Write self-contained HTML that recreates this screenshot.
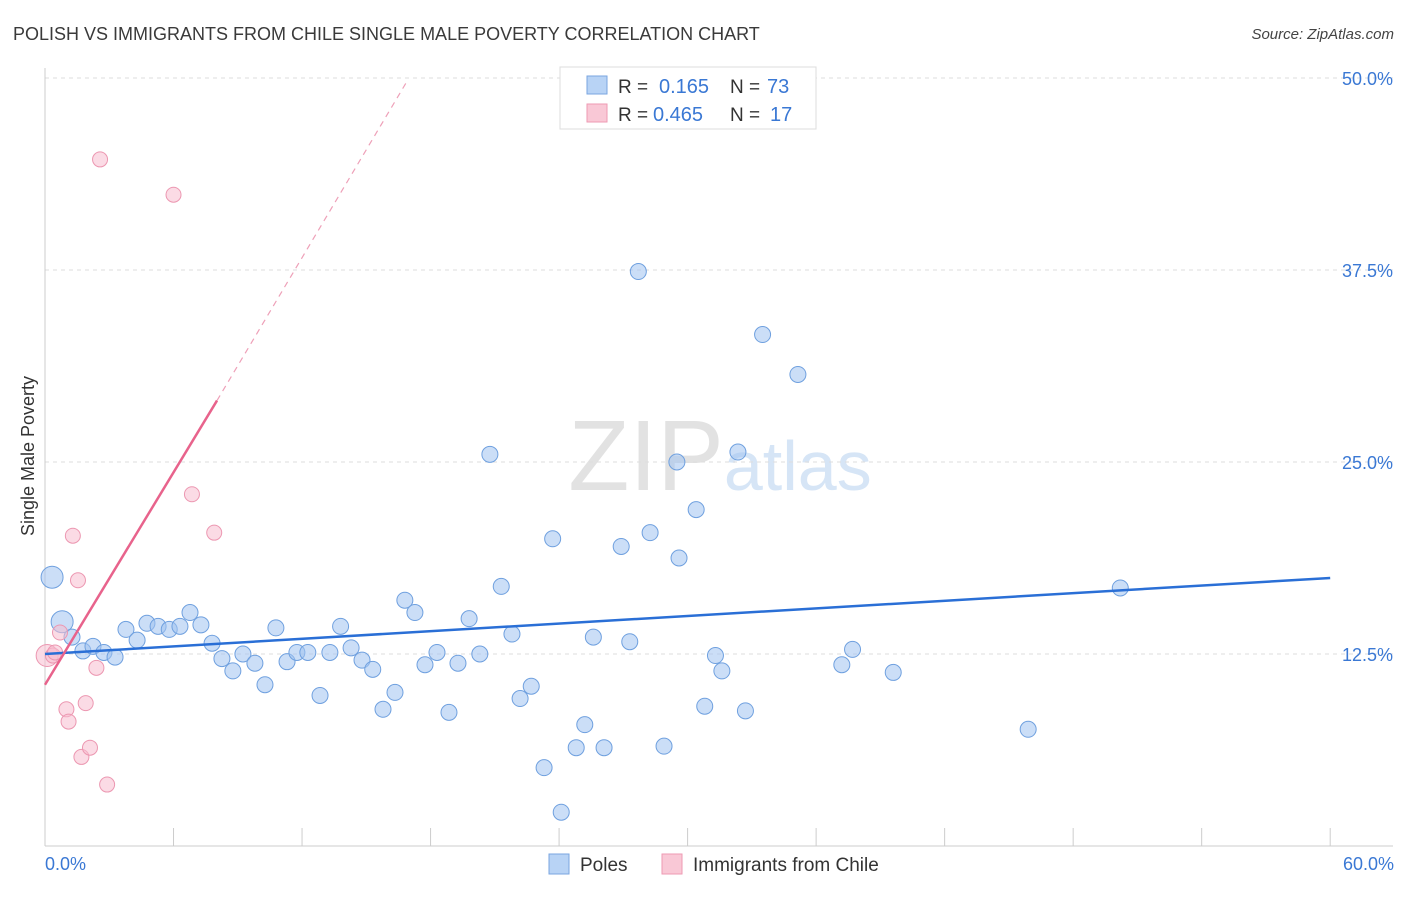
<!DOCTYPE html>
<html><head><meta charset="utf-8"><style>
body{margin:0;background:#fff;font-family:"Liberation Sans",sans-serif;}
svg text{font-family:"Liberation Sans",sans-serif;}
</style></head><body>
<svg id="chart" width="1406" height="892" xmlns="http://www.w3.org/2000/svg">
<text x="13" y="40" font-size="18" fill="#3a3a3a">POLISH VS IMMIGRANTS FROM CHILE SINGLE MALE POVERTY CORRELATION CHART</text>
<text x="1394" y="39" font-size="15" fill="#444" text-anchor="end" font-style="italic">Source: ZipAtlas.com</text>
<text x="720" y="490" font-size="100" fill="#e2e2e2" text-anchor="middle" font-family="Liberation Serif">ZIP<tspan fill="#d6e5f6" font-family="Liberation Sans" font-size="70">atlas</tspan></text>
<g id="grid"></g>
<g id="axes"></g>
<g id="marks"></g>
<text transform="translate(34,456) rotate(-90)" font-size="18" fill="#333" text-anchor="middle">Single Male Poverty</text>
<g>
<rect x="560" y="67" width="256" height="62" fill="#fff" stroke="#ddd"/>
<rect x="587" y="76" width="20" height="18" fill="#b8d3f5" stroke="#7aa6e0"/>
<text x="618" y="93" font-size="19" fill="#333">R =</text>
<text x="659" y="93" font-size="20" fill="#3a78d4">0.165</text>
<text x="730" y="93" font-size="19" fill="#333">N =</text>
<text x="767" y="93" font-size="20" fill="#3a78d4">73</text>
<rect x="587" y="104" width="20" height="18" fill="#f9c8d6" stroke="#ee9ab3"/>
<text x="618" y="121" font-size="19" fill="#333">R =</text>
<text x="653" y="121" font-size="20" fill="#3a78d4">0.465</text>
<text x="730" y="121" font-size="19" fill="#333">N =</text>
<text x="770" y="121" font-size="20" fill="#3a78d4">17</text>
</g>
<g>
<rect x="549" y="854" width="20" height="20" fill="#b8d3f5" stroke="#7aa6e0"/>
<text x="580" y="871" font-size="19" fill="#333">Poles</text>
<rect x="662" y="854" width="20" height="20" fill="#f9c8d6" stroke="#ee9ab3"/>
<text x="693" y="871" font-size="19" fill="#333">Immigrants from Chile</text>
</g>
</svg>
<script>
const yTicks=[12.5,25,37.5,50];
const yTickLabels=["12.5%","25.0%","37.5%","50.0%"];
const xTickLabels=["0.0%","60.0%"];
const polesX=[0.33,0.8,1.26,1.77,2.24,2.75,3.27,3.78,4.3,4.76,5.28,5.8,6.3,6.77,7.28,7.8,8.26,8.77,9.24,9.8,10.27,10.78,11.3,11.76,12.27,12.84,13.3,13.8,14.29,14.8,15.3,15.78,16.34,16.8,17.27,17.74,18.3,18.86,19.28,19.8,20.3,20.77,21.3,21.8,22.18,22.7,23.3,23.7,24.1,24.8,25.2,25.6,26.1,26.9,27.3,27.7,28.25,28.9,29.5,29.6,30.4,30.8,31.3,31.6,32.35,32.7,33.5,35.15,37.2,37.7,39.6,45.9,50.2];
const polesY=[17.5,14.6,13.6,12.7,13.0,12.6,12.3,14.1,13.4,14.5,14.3,14.1,14.3,15.2,14.4,13.2,12.2,11.4,12.5,11.9,10.5,14.2,12.0,12.6,12.6,9.8,12.6,14.3,12.9,12.1,11.5,8.9,10.0,16.0,15.2,11.8,12.6,8.7,11.9,14.8,12.5,25.5,16.9,13.8,9.6,10.4,5.1,20.0,2.2,6.4,7.9,13.6,6.4,19.5,13.3,37.4,20.4,6.5,25.0,18.75,21.9,9.1,12.4,11.4,25.65,8.8,33.3,30.7,11.8,12.8,11.3,7.6,16.8];
const chileX=[0.1,0.37,0.7,1.3,1.54,1.0,1.1,1.9,1.7,2.1,2.4,2.57,2.9,6.0,6.86,7.9,0.47];
const chileY=[12.4,12.4,13.9,20.2,17.3,8.9,8.1,9.3,5.8,6.4,11.6,44.7,4.0,42.4,22.9,20.4,12.6];
const polesTrend=[12.5,17.45];
const chileTrend=[10.5,29.0,49.9];
const chileTrendX=[0,8.03,16.95];
const NS="http://www.w3.org/2000/svg";
const X=v=>45+v*21.42, Y=v=>846-v*15.36;
function mk(p,t,a){const e=document.createElementNS(NS,t);for(const k in a)e.setAttribute(k,a[k]);p.appendChild(e);return e;}
const grid=document.getElementById('grid'),axes=document.getElementById('axes'),marks=document.getElementById('marks');
yTicks.forEach((t,i)=>{
 const l=mk(grid,'line',{x1:45,x2:1393,y1:Y(t),y2:Y(t),stroke:'#ddd','stroke-dasharray':'4,4'});
 
 
 const tx=mk(axes,'text',{x:1393,y:Y(t)+7,'font-size':18,fill:'#3a78d4','text-anchor':'end'});
 tx.textContent=yTickLabels[i];
 
 
});
mk(axes,'line',{x1:45,x2:45,y1:68,y2:846,stroke:'#ccc'});
mk(axes,'line',{x1:45,x2:1393,y1:846,y2:846,stroke:'#ccc'});
for(let i=0;i<=10;i++){const t=mk(axes,'line',{x1:X(i*6),x2:X(i*6),y1:828,y2:846,stroke:'#ccc'});
 
 }
[[0,'start',45],[1,'end',1394]].forEach(([i,a,x])=>{const t=mk(axes,'text',{x:x,y:870,'font-size':18,fill:'#3a78d4','text-anchor':a});t.textContent=xTickLabels[i];
 
 });
polesX.forEach((x,i)=>{const r=i<2?11:8;const c=mk(marks,'circle',{cx:X(x),cy:Y(polesY[i]),r:r,fill:'rgba(160,195,240,0.55)',stroke:'#6fa0df','stroke-width':1});
 
 });
chileX.forEach((x,i)=>{const r=i===0?11:7.5;const c=mk(marks,'circle',{cx:X(x),cy:Y(chileY[i]),r:r,fill:'rgba(248,190,208,0.55)',stroke:'#ec97b1','stroke-width':1});
 
 });
const bl=mk(marks,'line',{x1:X(0),y1:Y(polesTrend[0]),x2:X(60),y2:Y(polesTrend[1]),stroke:'#2a6fd6','stroke-width':2.5});


const pl=mk(marks,'line',{x1:X(chileTrendX[0]),y1:Y(chileTrend[0]),x2:X(chileTrendX[1]),y2:Y(chileTrend[1]),stroke:'#e8638c','stroke-width':2.5});


const pd=mk(marks,'line',{x1:X(chileTrendX[1]),y1:Y(chileTrend[1]),x2:X(chileTrendX[2]),y2:Y(chileTrend[2]),stroke:'#eea0b8','stroke-width':1.2,'stroke-dasharray':'6,5'});


</script>
</body></html>
